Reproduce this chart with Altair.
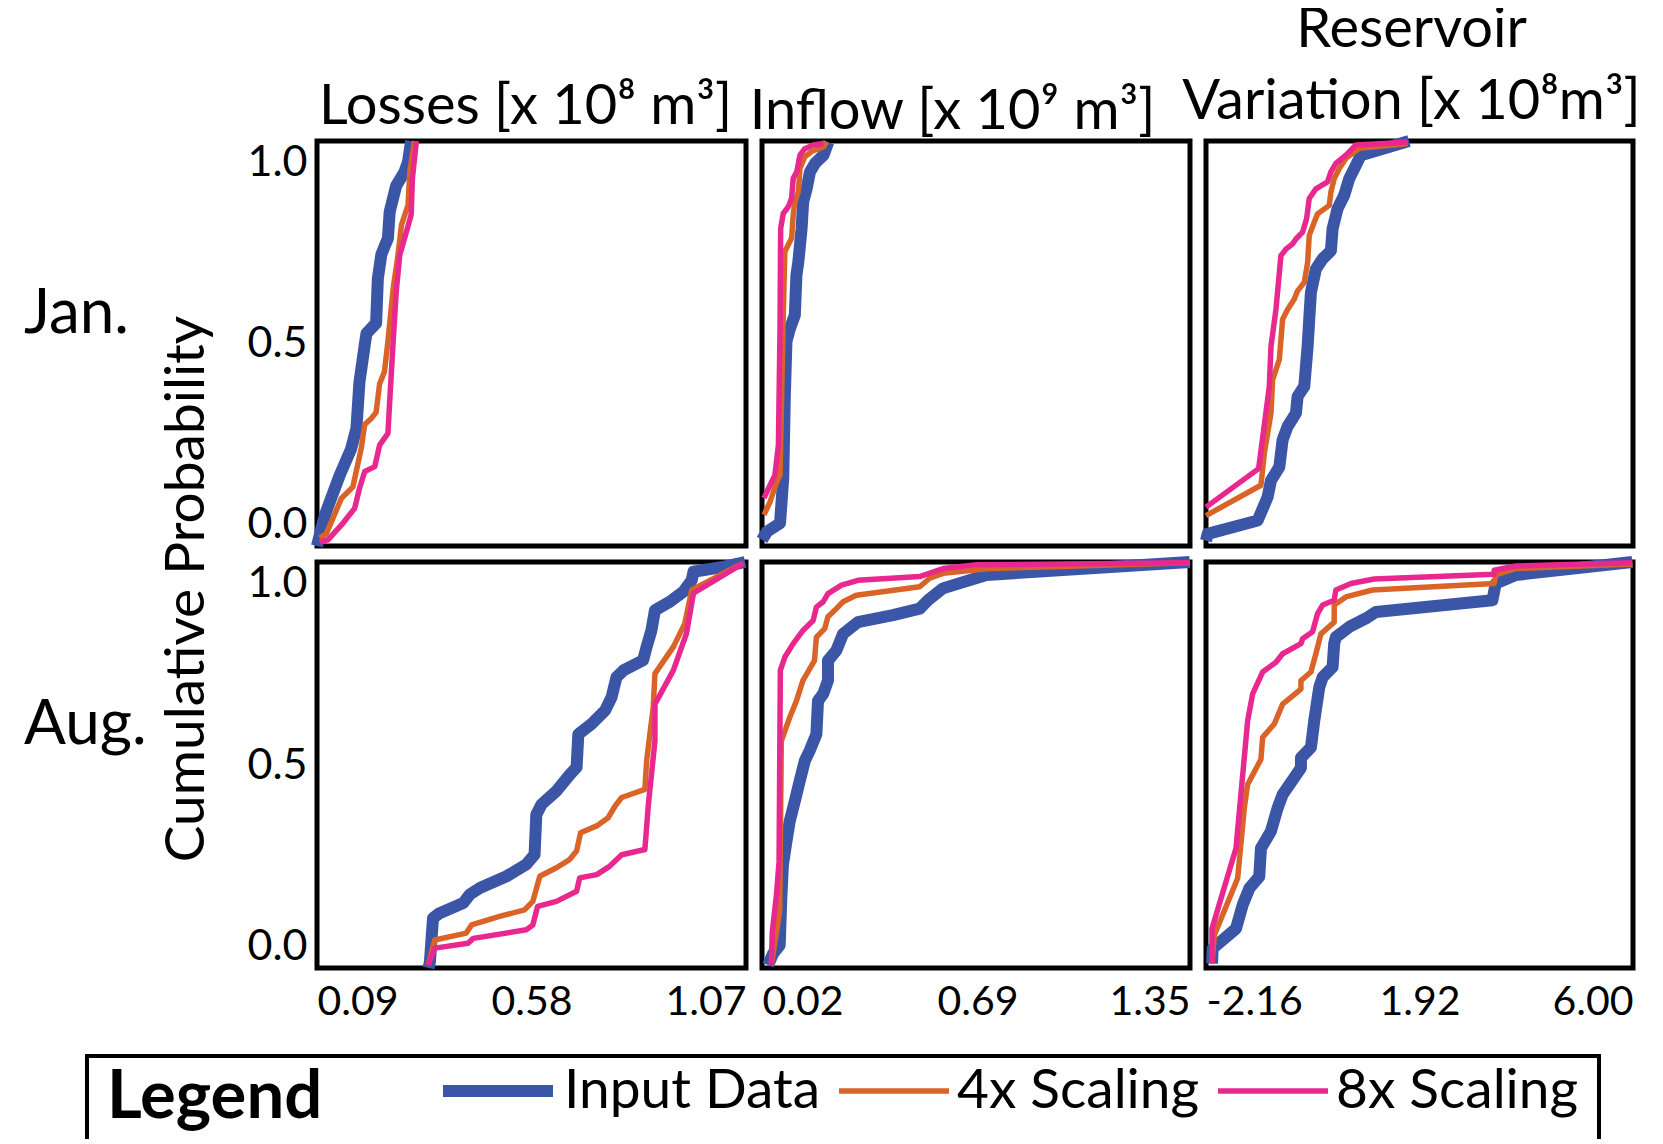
import altair as alt
import pandas as pd

FONT = "Lato"
SERIES = ["Input Data", "4x Scaling", "8x Scaling"]
SERIES_COLORS = ["#3B56A6", "#DA6428", "#E8288E"]
SERIES_WIDTHS = [12, 5.5, 5.5]

VARIABLES = ["Losses", "Inflow", "Reservoir"]
VARIABLE_TITLES = ["Losses [x 10⁸ m³]", "Inflow [x 10⁹ m³]", ["Reservoir", "Variation [x 10⁸m³]"]]
X_TICKS = [[0.09, 0.58, 1.07], [0.02, 0.69, 1.35], [-2.16, 1.92, 6.00]]
Y_TICKS = [0.0, 0.5, 1.0]
MONTHS = ["Jan.", "Aug."]

# ---- Jan. / Losses
JAN_LOSSES_INPUT_X = [0.090, 0.104, 0.111, 0.142, 0.168, 0.180, 0.187, 0.199, 0.203, 0.225, 0.229, 0.237, 0.252, 0.256, 0.271, 0.290, 0.298, 0.305]
JAN_LOSSES_INPUT_P = [0.0, 0.06, 0.085, 0.175, 0.24, 0.29, 0.405, 0.496, 0.525, 0.55, 0.66, 0.72, 0.76, 0.825, 0.89, 0.924, 0.949, 1.0]
JAN_LOSSES_4X_X = [0.096, 0.111, 0.146, 0.172, 0.191, 0.199, 0.214, 0.225, 0.233, 0.244, 0.252, 0.264, 0.275, 0.283, 0.298, 0.302, 0.313]
JAN_LOSSES_4X_P = [0.02, 0.03, 0.118, 0.146, 0.241, 0.30, 0.315, 0.33, 0.40, 0.43, 0.505, 0.636, 0.718, 0.793, 0.842, 0.924, 1.0]
JAN_LOSSES_8X_X = [0.096, 0.115, 0.146, 0.176, 0.187, 0.199, 0.222, 0.233, 0.252, 0.256, 0.264, 0.271, 0.279, 0.290, 0.305, 0.308, 0.317]
JAN_LOSSES_8X_P = [0.01, 0.015, 0.052, 0.093, 0.142, 0.184, 0.196, 0.249, 0.278, 0.356, 0.505, 0.628, 0.718, 0.76, 0.817, 0.908, 1.0]

# ---- Jan. / Inflow
JAN_INFLOW_INPUT_X = [0.020, 0.035, 0.076, 0.086, 0.091, 0.096, 0.107, 0.122, 0.127, 0.133, 0.138, 0.143, 0.148, 0.159, 0.169, 0.185, 0.211, 0.226]
JAN_INFLOW_INPUT_P = [0.015, 0.035, 0.056, 0.167, 0.373, 0.505, 0.537, 0.57, 0.669, 0.702, 0.743, 0.784, 0.85, 0.883, 0.924, 0.945, 0.965, 0.997]
JAN_INFLOW_4X_X = [0.026, 0.045, 0.066, 0.076, 0.081, 0.086, 0.091, 0.112, 0.117, 0.122, 0.133, 0.138, 0.153, 0.174, 0.211, 0.221]
JAN_INFLOW_4X_P = [0.077, 0.109, 0.159, 0.175, 0.373, 0.57, 0.727, 0.76, 0.817, 0.85, 0.875, 0.932, 0.961, 0.974, 0.986, 0.998]
JAN_INFLOW_8X_X = [0.026, 0.040, 0.060, 0.071, 0.076, 0.078, 0.086, 0.102, 0.112, 0.117, 0.128, 0.138, 0.153, 0.179, 0.211]
JAN_INFLOW_8X_P = [0.118, 0.142, 0.175, 0.249, 0.537, 0.784, 0.821, 0.838, 0.859, 0.908, 0.924, 0.965, 0.981, 0.99, 0.994]

# ---- Jan. / Reservoir variation
JAN_RES_INPUT_X = [-2.16, -2.128, -1.173, -0.982, -0.918, -0.759, -0.696, -0.601, -0.441, -0.41, -0.282, -0.25, -0.218, -0.187, -0.155, -0.06, 0.068, 0.227, 0.259, 0.354, 0.481, 0.577, 0.704, 0.80, 1.72]
JAN_RES_INPUT_P = [0.013, 0.03, 0.063, 0.121, 0.162, 0.195, 0.262, 0.295, 0.328, 0.369, 0.394, 0.444, 0.493, 0.56, 0.626, 0.684, 0.709, 0.729, 0.783, 0.833, 0.866, 0.907, 0.94, 0.965, 1.0]
JAN_RES_4X_X = [-2.16, -1.11, -1.046, -0.918, -0.887, -0.759, -0.696, -0.601, -0.474, -0.41, -0.282, -0.218, -0.187, -0.091, -0.028, 0.195, 0.227, 0.29, 0.386, 0.513, 0.768, 1.691]
JAN_RES_4X_P = [0.075, 0.15, 0.228, 0.328, 0.41, 0.46, 0.56, 0.584, 0.609, 0.63, 0.651, 0.70, 0.767, 0.80, 0.82, 0.841, 0.874, 0.907, 0.932, 0.957, 0.982, 0.994]
JAN_RES_8X_X = [-2.16, -1.154, -0.95, -0.918, -0.823, -0.728, -0.632, -0.505, -0.441, -0.314, -0.238, -0.187, -0.06, 0.163, 0.227, 0.322, 0.513, 0.704, 1.691]
JAN_RES_8X_P = [0.096, 0.191, 0.394, 0.493, 0.584, 0.717, 0.733, 0.746, 0.758, 0.775, 0.808, 0.858, 0.882, 0.899, 0.924, 0.945, 0.965, 0.99, 0.997]

# ---- Aug. / Losses
AUG_LOSSES_INPUT_X = [0.345, 0.348, 0.355, 0.370, 0.424, 0.439, 0.462, 0.523, 0.568, 0.587, 0.591, 0.603, 0.637, 0.668, 0.683, 0.687, 0.717, 0.748, 0.763, 0.774, 0.790, 0.835, 0.843, 0.854, 0.862, 0.896, 0.927, 0.946, 0.950, 1.018, 1.068]
AUG_LOSSES_INPUT_P = [0.0, 0.016, 0.123, 0.135, 0.16, 0.181, 0.197, 0.226, 0.255, 0.279, 0.378, 0.403, 0.436, 0.477, 0.494, 0.576, 0.601, 0.634, 0.667, 0.716, 0.733, 0.758, 0.791, 0.832, 0.881, 0.902, 0.927, 0.955, 0.976, 0.988, 1.0]
AUG_LOSSES_4X_X = [0.344, 0.359, 0.431, 0.443, 0.507, 0.564, 0.583, 0.599, 0.637, 0.667, 0.683, 0.692, 0.729, 0.755, 0.771, 0.786, 0.839, 0.843, 0.858, 0.862, 0.904, 0.930, 0.946, 1.064]
AUG_LOSSES_4X_P = [0.007, 0.069, 0.086, 0.106, 0.127, 0.143, 0.164, 0.226, 0.247, 0.267, 0.288, 0.333, 0.35, 0.37, 0.399, 0.42, 0.44, 0.51, 0.642, 0.725, 0.791, 0.848, 0.931, 0.998]
AUG_LOSSES_8X_X = [0.344, 0.359, 0.435, 0.447, 0.568, 0.583, 0.594, 0.637, 0.683, 0.690, 0.729, 0.759, 0.786, 0.839, 0.847, 0.862, 0.862, 0.904, 0.934, 0.950, 1.064]
AUG_LOSSES_8X_P = [0.007, 0.049, 0.061, 0.073, 0.094, 0.106, 0.152, 0.164, 0.189, 0.222, 0.23, 0.251, 0.279, 0.292, 0.403, 0.56, 0.65, 0.733, 0.824, 0.923, 0.997]

# ---- Aug. / Inflow
AUG_INFLOW_INPUT_X = [0.039, 0.054, 0.075, 0.080, 0.085, 0.096, 0.106, 0.122, 0.137, 0.153, 0.168, 0.189, 0.194, 0.210, 0.225, 0.225, 0.251, 0.272, 0.318, 0.427, 0.510, 0.536, 0.582, 0.717, 1.349]
AUG_INFLOW_INPUT_P = [0.007, 0.035, 0.056, 0.172, 0.254, 0.312, 0.361, 0.411, 0.46, 0.51, 0.535, 0.576, 0.658, 0.675, 0.708, 0.757, 0.782, 0.823, 0.852, 0.869, 0.885, 0.906, 0.935, 0.968, 1.0]
AUG_INFLOW_4X_X = [0.049, 0.075, 0.080, 0.106, 0.127, 0.147, 0.183, 0.189, 0.215, 0.225, 0.246, 0.272, 0.313, 0.510, 0.541, 0.583, 0.728, 1.349]
AUG_INFLOW_4X_P = [0.007, 0.139, 0.559, 0.617, 0.658, 0.708, 0.757, 0.815, 0.836, 0.865, 0.881, 0.902, 0.918, 0.939, 0.96, 0.972, 0.984, 0.998]
AUG_INFLOW_8X_X = [0.049, 0.052, 0.065, 0.073, 0.077, 0.091, 0.117, 0.148, 0.179, 0.189, 0.210, 0.225, 0.267, 0.318, 0.510, 0.583, 0.686, 1.349]
AUG_INFLOW_8X_P = [0.007, 0.089, 0.18, 0.262, 0.733, 0.766, 0.799, 0.832, 0.856, 0.889, 0.902, 0.922, 0.943, 0.955, 0.964, 0.984, 0.993, 0.998]

# ---- Aug. / Reservoir variation
AUG_RES_INPUT_X = [-2.045, -2.033, -1.587, -1.46, -1.333, -1.142, -1.11, -0.919, -0.792, -0.696, -0.473, -0.346, -0.346, -0.155, -0.091, 0.004, 0.068, 0.259, 0.29, 0.322, 0.577, 0.895, 1.086, 3.314, 3.377, 3.759, 5.987]
AUG_RES_INPUT_P = [0.011, 0.048, 0.097, 0.155, 0.196, 0.225, 0.295, 0.337, 0.394, 0.427, 0.469, 0.493, 0.518, 0.543, 0.609, 0.691, 0.716, 0.741, 0.799, 0.815, 0.84, 0.861, 0.877, 0.906, 0.947, 0.968, 1.0]
AUG_RES_4X_X = [-2.045, -2.001, -1.555, -1.428, -1.365, -1.11, -1.078, -0.855, -0.696, -0.346, -0.346, -0.155, -0.06, 0.036, 0.29, 0.29, 0.513, 1.022, 3.346, 3.377, 3.759, 5.987]
AUG_RES_4X_P = [0.011, 0.081, 0.221, 0.394, 0.452, 0.514, 0.568, 0.601, 0.65, 0.687, 0.708, 0.729, 0.774, 0.823, 0.852, 0.894, 0.914, 0.931, 0.947, 0.968, 0.984, 0.995]
AUG_RES_8X_X = [-2.045, -2.045, -1.587, -1.364, -1.269, -1.078, -0.823, -0.696, -0.346, -0.314, -0.123, -0.028, 0.068, 0.29, 0.322, 0.609, 1.054, 3.346, 3.346, 3.759, 5.987]
AUG_RES_8X_P = [0.011, 0.097, 0.295, 0.609, 0.675, 0.729, 0.753, 0.774, 0.799, 0.811, 0.828, 0.873, 0.894, 0.906, 0.931, 0.947, 0.958, 0.97, 0.98, 0.99, 0.998]

CURVES = {
    ("Jan.", "Losses"): [(JAN_LOSSES_INPUT_X, JAN_LOSSES_INPUT_P), (JAN_LOSSES_4X_X, JAN_LOSSES_4X_P), (JAN_LOSSES_8X_X, JAN_LOSSES_8X_P)],
    ("Jan.", "Inflow"): [(JAN_INFLOW_INPUT_X, JAN_INFLOW_INPUT_P), (JAN_INFLOW_4X_X, JAN_INFLOW_4X_P), (JAN_INFLOW_8X_X, JAN_INFLOW_8X_P)],
    ("Jan.", "Reservoir"): [(JAN_RES_INPUT_X, JAN_RES_INPUT_P), (JAN_RES_4X_X, JAN_RES_4X_P), (JAN_RES_8X_X, JAN_RES_8X_P)],
    ("Aug.", "Losses"): [(AUG_LOSSES_INPUT_X, AUG_LOSSES_INPUT_P), (AUG_LOSSES_4X_X, AUG_LOSSES_4X_P), (AUG_LOSSES_8X_X, AUG_LOSSES_8X_P)],
    ("Aug.", "Inflow"): [(AUG_INFLOW_INPUT_X, AUG_INFLOW_INPUT_P), (AUG_INFLOW_4X_X, AUG_INFLOW_4X_P), (AUG_INFLOW_8X_X, AUG_INFLOW_8X_P)],
    ("Aug.", "Reservoir"): [(AUG_RES_INPUT_X, AUG_RES_INPUT_P), (AUG_RES_4X_X, AUG_RES_4X_P), (AUG_RES_8X_X, AUG_RES_8X_P)],
}

rows = []
for (month, var), curves in CURVES.items():
    for s, (xs, ps) in zip(SERIES, curves):
        for i, (xv, pv) in enumerate(zip(xs, ps)):
            rows.append({"month": month, "variable": var, "series": s, "i": i, "x": xv, "p": pv})
data = pd.DataFrame(rows)

LEGEND = alt.Legend(
    title="Legend", orient="none", legendX=-230, legendY=915, direction="horizontal",
    titleOrient="left", titleFont=FONT, titleFontSize=67, titleFontWeight="bold", titleColor="black",
    titlePadding=114, titleAnchor="middle", titleBaseline="middle", titleLimit=600,
    labelFont=FONT, labelFontSize=55, labelColor="black", labelOffset=5, labelLimit=600,
    symbolType="stroke", symbolSize=12100, clipHeight=30, columnPadding=15,
    padding=20, strokeColor="black", fillColor="white",
)

# column titles: horizontal centre and baseline relative to each panel
COL_TITLE_X = [208, 190, 205]
COL_TITLE_Y = [-17.5, -12.5, -94.5]
HEIGHTS = [405, 406]
WIDTHS = [429, 428, 427]
LABEL_STYLE = dict(labelFont=FONT, labelColor="black", ticks=False, tickSize=0,
                   domain=False, grid=False)
BIG_TITLE = dict(titleFont=FONT, titleFontWeight="normal", titleColor="black")


def panel(mi, vi):
    month, var = MONTHS[mi], VARIABLES[vi]
    sub = data[(data.month == month) & (data.variable == var)]
    lo, hi = X_TICKS[vi][0], X_TICKS[vi][-1]
    if mi == 0:
        x_axis = alt.Axis(orient="top", labels=False, ticks=False, domain=False, grid=False,
                          title=VARIABLE_TITLES[vi], titleFontSize=56,
                          titleX=COL_TITLE_X[vi], titleY=COL_TITLE_Y[vi], titleAlign="center",
                          titleBaseline="alphabetic", titleLineHeight=72, **BIG_TITLE)
    else:
        if vi == 0:
            # row label of the lower row
            extra = dict(title=MONTHS[1], titleFontSize=62, titleX=-293.5, titleY=-243.5,
                         titleAlign="left", titleBaseline="middle", titleAngle=0, **BIG_TITLE)
        else:
            extra = dict(title=None)
        x_axis = alt.Axis(values=X_TICKS[vi],
                          labelExpr="replace(format(datum.value, '.2f'), '\u2212', '-')",
                          labelFlush=True, labelFontSize=41, labelPadding=14, **LABEL_STYLE, **extra)
    if vi == 0:
        if mi == 0:
            ytitle = dict(title="Cumulative Probability", titleFontSize=55, titleX=-130.5, titleY=447.5,
                          titleAngle=270, titleBaseline="middle", titleAlign="center", **BIG_TITLE)
        else:
            # row label of the upper row
            ytitle = dict(title=MONTHS[0], titleFontSize=62, titleX=-293.5, titleY=-248.5,
                          titleAngle=0, titleBaseline="middle", titleAlign="left", **BIG_TITLE)
        y_axis = alt.Axis(values=Y_TICKS, format=".1f", labelFlush=True, labelFontSize=43,
                          labelPadding=10, **LABEL_STYLE, **ytitle)
    else:
        y_axis = None
    return alt.Chart(sub).mark_line(strokeJoin="round").encode(
        x=alt.X("x:Q", scale=alt.Scale(domain=[lo, hi], nice=False, zero=False), axis=x_axis),
        y=alt.Y("p:Q", scale=alt.Scale(domain=[0, 1], nice=False), axis=y_axis),
        color=alt.Color("series:N", scale=alt.Scale(domain=SERIES, range=SERIES_COLORS), legend=LEGEND),
        strokeWidth=alt.StrokeWidth("series:N", scale=alt.Scale(type="ordinal", domain=SERIES, range=SERIES_WIDTHS), legend=LEGEND),
        order=alt.Order("i:Q"),
    ).properties(width=WIDTHS[vi], height=HEIGHTS[mi])


panels = [panel(mi, vi) for mi in range(2) for vi in range(3)]
chart = alt.concat(*panels, columns=3, spacing=alt.RowColnumber(row=16, column=16), bounds="flush").properties(
    padding={"left": 13, "top": -9, "right": 0, "bottom": -14}
).configure_view(stroke="black", strokeWidth=5).configure_legend(strokeWidth=4, cornerRadius=0)

chart.save("out.html", embed_options={"renderer": "svg", "actions": False})
